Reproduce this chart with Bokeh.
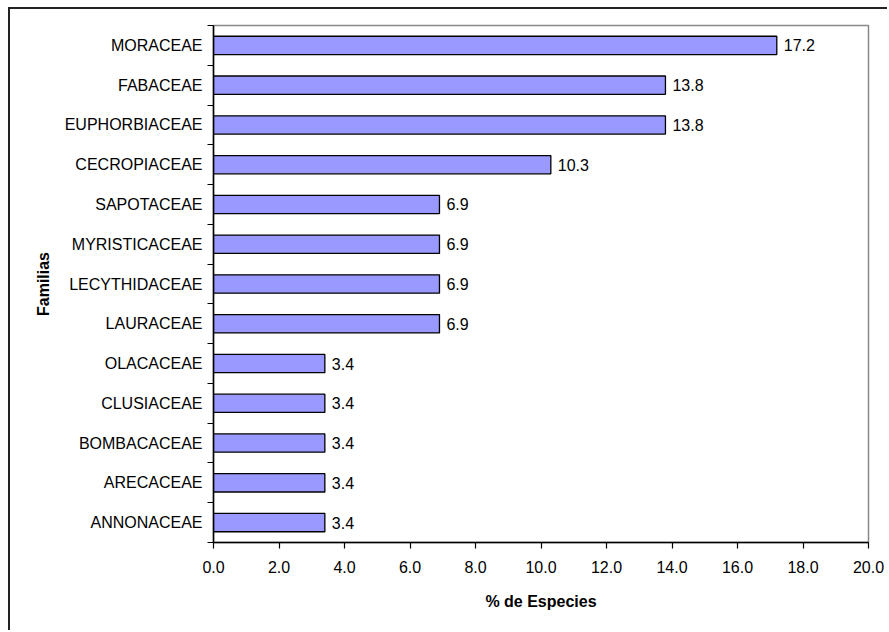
from bokeh.plotting import figure
from bokeh.models import (Range1d, FixedTicker, ColumnDataSource, LabelSet,
                          PrintfTickFormatter)
from bokeh.core.properties import value
from bokeh.embed import file_html
from bokeh.resources import INLINE

# Families, bottom to top
familias = ["ANNONACEAE", "ARECACEAE", "BOMBACACEAE", "CLUSIACEAE", "OLACACEAE",
            "LAURACEAE", "LECYTHIDACEAE", "MYRISTICACEAE", "SAPOTACEAE",
            "CECROPIACEAE", "EUPHORBIACEAE", "FABACEAE", "MORACEAE"]
porcentaje = [3.4, 3.4, 3.4, 3.4, 3.4, 6.9, 6.9, 6.9, 6.9, 10.3, 13.8, 13.8, 17.2]
x_ticks = [0, 2, 4, 6, 8, 10, 12, 14, 16, 18, 20]

FONT = "Liberation Sans"
SIZE = "16px"

centros = [i + 0.5 for i in range(len(familias))]
limites = list(range(len(familias) + 1))

src = ColumnDataSource(dict(
    y=centros,
    v=porcentaje,
    txt=[f"{v:.1f}" for v in porcentaje],
))

p = figure(width=879, height=623, output_backend="svg", toolbar_location=None,
           x_range=Range1d(0, 20), y_range=Range1d(0, len(familias)),
           min_border_left=203, min_border_right=21,
           min_border_top=16, min_border_bottom=90)
p.styles = {"margin-left": "8px", "margin-top": "7px",
            "border-left": "2px solid #222", "border-top": "2px solid #222"}

p.hbar(y="y", right="v", left=0, height=0.46, source=src,
       fill_color="#9999FF", line_color="black", line_width=1.3)

p.add_layout(LabelSet(x="v", y="y", text="txt", source=src, x_offset=7,
                      text_baseline="middle", text_font=value(FONT),
                      text_font_size=value(SIZE), text_color="black"))

p.grid.visible = False
p.outline_line_color = "#888888"
p.outline_line_width = 1.5
p.background_fill_color = "white"
p.border_fill_color = "white"

# x axis
xa = p.xaxis[0]
xa.ticker = FixedTicker(ticks=x_ticks)
xa.formatter = PrintfTickFormatter(format="%.1f")
xa.axis_label = "% de Especies"
xa.axis_label_text_font = FONT
xa.axis_label_text_font_style = "bold"
xa.axis_label_text_font_size = SIZE
xa.axis_label_text_color = "black"
xa.axis_label_standoff = 17
xa.major_label_text_font = FONT
xa.major_label_text_font_size = SIZE
xa.major_label_text_color = "black"
xa.major_label_standoff = 12
xa.major_tick_out = 6
xa.major_tick_in = 0
xa.minor_tick_out = 0
xa.axis_line_color = "black"
xa.axis_line_width = 1.5
xa.major_tick_line_width = 1.2

# y axis: labels at band centres, ticks at band boundaries
ya = p.yaxis[0]
ya.ticker = FixedTicker(ticks=centros, minor_ticks=limites)
ya.major_label_overrides = {c: f for c, f in zip(centros, familias)}
ya.axis_label = "Familias"
ya.axis_label_text_font = FONT
ya.axis_label_text_font_style = "bold"
ya.axis_label_text_font_size = SIZE
ya.axis_label_text_color = "black"
ya.axis_label_standoff = 10
ya.major_label_text_font = FONT
ya.major_label_text_font_size = SIZE
ya.major_label_text_color = "black"
ya.major_label_standoff = 5
ya.major_tick_out = 0
ya.major_tick_in = 0
ya.minor_tick_out = 6
ya.minor_tick_in = 0
ya.minor_tick_line_color = "black"
ya.minor_tick_line_width = 1.2
ya.axis_line_color = "black"
ya.axis_line_width = 1.5

open("out.html", "w").write(file_html(p, INLINE))
